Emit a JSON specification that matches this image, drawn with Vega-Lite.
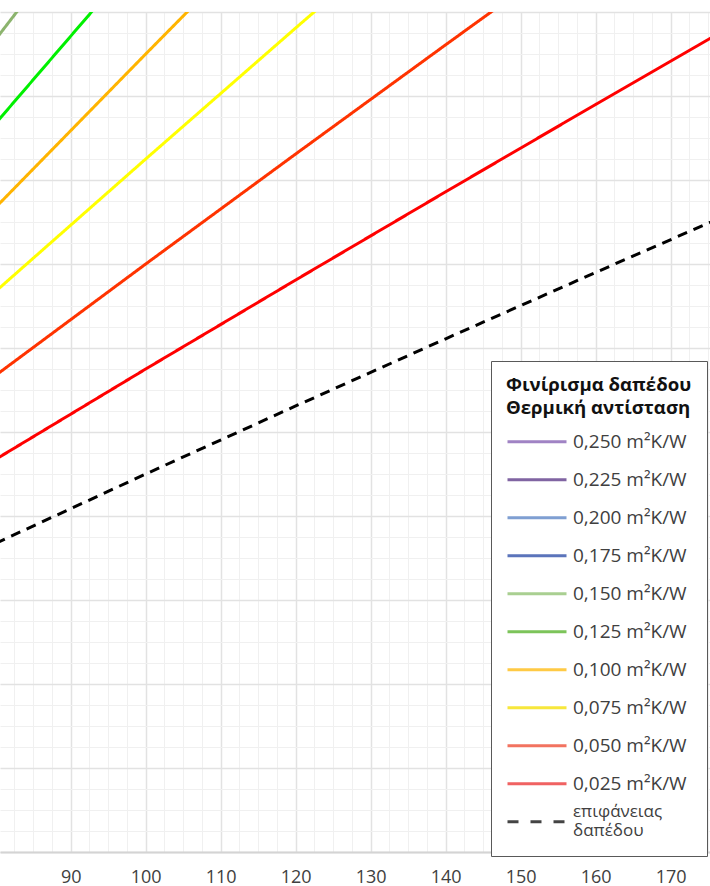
{
  "$schema": "https://vega.github.io/schema/vega-lite/v6.json",
  "width": 710,
  "height": 840,
  "autosize": {"type": "none"},
  "padding": {"left": 0, "top": 12, "right": 0, "bottom": 34},
  "background": "white",
  "config": {
    "view": {"stroke": null},
    "font": "Open Sans",
    "legend": {
      "padding": 15,
      "fillColor": "white",
      "strokeColor": "#595959",
      "titleFont": "Open Sans",
      "titleFontSize": 18.6,
      "titleFontWeight": "bold",
      "titleColor": "#111111",
      "titleLineHeight": 23,
      "titlePadding": 5.4,
      "titleLimit": 400,
      "labelFont": "Open Sans",
      "labelFontSize": 19,
      "labelColor": "#404040",
      "labelOffset": 5,
      "labelLimit": 300,
      "symbolType": "stroke",
      "symbolSize": 3481,
      "symbolStrokeWidth": 3,
      "symbolOpacity": 1,
      "clipHeight": 37.4,
      "rowPadding": 0
    }
  },
  "datasets": {
    "curves": [
      {"q": 80, "t": 27.35, "s": "επιφάνειας δαπέδου"},
      {"q": 100, "t": 29.00, "s": "επιφάνειας δαπέδου"},
      {"q": 120, "t": 30.62, "s": "επιφάνειας δαπέδου"},
      {"q": 140, "t": 32.22, "s": "επιφάνειας δαπέδου"},
      {"q": 160, "t": 33.80, "s": "επιφάνειας δαπέδου"},
      {"q": 180, "t": 35.36, "s": "επιφάνειας δαπέδου"},
      {"q": 80, "t": 29.35, "s": "0,025 m²K/W"},
      {"q": 100, "t": 31.50, "s": "0,025 m²K/W"},
      {"q": 120, "t": 33.62, "s": "0,025 m²K/W"},
      {"q": 140, "t": 35.72, "s": "0,025 m²K/W"},
      {"q": 160, "t": 37.80, "s": "0,025 m²K/W"},
      {"q": 180, "t": 39.86, "s": "0,025 m²K/W"},
      {"q": 80, "t": 31.35, "s": "0,050 m²K/W"},
      {"q": 100, "t": 34.00, "s": "0,050 m²K/W"},
      {"q": 120, "t": 36.62, "s": "0,050 m²K/W"},
      {"q": 140, "t": 39.22, "s": "0,050 m²K/W"},
      {"q": 160, "t": 41.80, "s": "0,050 m²K/W"},
      {"q": 80, "t": 33.35, "s": "0,075 m²K/W"},
      {"q": 100, "t": 36.50, "s": "0,075 m²K/W"},
      {"q": 120, "t": 39.62, "s": "0,075 m²K/W"},
      {"q": 140, "t": 42.72, "s": "0,075 m²K/W"},
      {"q": 80, "t": 35.35, "s": "0,100 m²K/W"},
      {"q": 100, "t": 39.00, "s": "0,100 m²K/W"},
      {"q": 120, "t": 42.62, "s": "0,100 m²K/W"},
      {"q": 80, "t": 37.35, "s": "0,125 m²K/W"},
      {"q": 100, "t": 41.50, "s": "0,125 m²K/W"},
      {"q": 80, "t": 39.35, "s": "0,150 m²K/W"},
      {"q": 100, "t": 44.00, "s": "0,150 m²K/W"}
    ]
  },
  "data": {"name": "curves"},
  "resolve": {
    "scale": {"color": "independent", "strokeDash": "independent"},
    "axis": {"x": "independent", "y": "independent"}
  },
  "layer": [
    {
      "mark": {"type": "line", "opacity": 0, "clip": true},
      "encoding": {
        "x": {
          "field": "q", "type": "quantitative",
          "scale": {"domain": [80.57, 175.24], "nice": false, "zero": false},
          "axis": {
            "orient": "bottom", "title": null, "labels": false, "ticks": false, "domain": false,
            "grid": true, "gridColor": "#f0f0f0", "gridWidth": 1,
            "values": [82.5, 85, 87.5, 92.5, 95, 97.5, 102.5, 105, 107.5, 112.5, 115, 117.5, 122.5, 125, 127.5, 132.5, 135, 137.5, 142.5, 145, 147.5, 152.5, 155, 157.5, 162.5, 165, 167.5, 172.5, 175]
          }
        },
        "y": {
          "field": "t", "type": "quantitative",
          "scale": {"domain": [20, 40], "nice": false, "zero": false},
          "axis": {
            "orient": "left", "title": null, "labels": false, "ticks": false, "domain": false,
            "grid": true, "gridColor": "#f0f0f0", "gridWidth": 1,
            "values": [20.5, 21, 21.5, 22.5, 23, 23.5, 24.5, 25, 25.5, 26.5, 27, 27.5, 28.5, 29, 29.5, 30.5, 31, 31.5, 32.5, 33, 33.5, 34.5, 35, 35.5, 36.5, 37, 37.5, 38.5, 39, 39.5]
          }
        },
        "color": {
          "field": "s", "type": "nominal",
          "title": ["Φινίρισμα δαπέδου", "Θερμική αντίσταση"],
          "scale": {
            "domain": ["0,250 m²K/W", "0,225 m²K/W", "0,200 m²K/W", "0,175 m²K/W", "0,150 m²K/W", "0,125 m²K/W", "0,100 m²K/W", "0,075 m²K/W", "0,050 m²K/W", "0,025 m²K/W", "επιφάνειας δαπέδου"],
            "range": ["#a083c4", "#8064a2", "#7f9fd2", "#5b74bb", "#a9cf91", "#7cc45a", "#ffca45", "#f7e73c", "#f27360", "#f06262", "#444444"]
          },
          "legend": {
            "orient": "none",
            "legendX": 491,
            "legendY": 349,
            "labelExpr": "datum.label == 'επιφάνειας δαπέδου' ? [' επιφάνειας', 'δαπέδου'] : datum.label",
            "encode": {"labels": {"update": {
              "dy": {"signal": "datum.value == 'επιφάνειας δαπέδου' ? -9.5 : 0"},
              "fontSize": {"signal": "datum.value == 'επιφάνειας δαπέδου' ? 17 : 19"},
              "lineHeight": {"value": 19}
            }}}
          }
        },
        "strokeDash": {
          "field": "s", "type": "nominal",
          "title": ["Φινίρισμα δαπέδου", "Θερμική αντίσταση"],
          "scale": {
            "domain": ["0,250 m²K/W", "0,225 m²K/W", "0,200 m²K/W", "0,175 m²K/W", "0,150 m²K/W", "0,125 m²K/W", "0,100 m²K/W", "0,075 m²K/W", "0,050 m²K/W", "0,025 m²K/W", "επιφάνειας δαπέδου"],
            "range": [[1, 0], [1, 0], [1, 0], [1, 0], [1, 0], [1, 0], [1, 0], [1, 0], [1, 0], [1, 0], [11, 12]]
          },
          "legend": {
            "orient": "none",
            "legendX": 491,
            "legendY": 349,
            "labelExpr": "datum.label == 'επιφάνειας δαπέδου' ? [' επιφάνειας', 'δαπέδου'] : datum.label",
            "encode": {"labels": {"update": {
              "dy": {"signal": "datum.value == 'επιφάνειας δαπέδου' ? -9.5 : 0"},
              "fontSize": {"signal": "datum.value == 'επιφάνειας δαπέδου' ? 17 : 19"},
              "lineHeight": {"value": 19}
            }}}
          }
        }
      }
    },
    {
      "mark": {"type": "line", "strokeWidth": 3, "clip": true},
      "encoding": {
        "x": {
          "field": "q", "type": "quantitative",
          "axis": {
            "orient": "bottom", "title": null, "ticks": false,
            "domain": true, "domainColor": "#d4d4d4", "domainWidth": 2,
            "grid": true, "gridColor": "#e2e2e2", "gridWidth": 1.5,
            "labelFont": "Open Sans", "labelFontSize": 18, "labelColor": "#404040",
            "labelPadding": 16, "labelFlush": false,
            "values": [80, 90, 100, 110, 120, 130, 140, 150, 160, 170]
          }
        },
        "y": {
          "field": "t", "type": "quantitative",
          "axis": {
            "orient": "left", "title": null, "labels": false, "ticks": false, "domain": false,
            "grid": true, "gridColor": "#e2e2e2", "gridWidth": 1.5,
            "values": [20, 22, 24, 26, 28, 30, 32, 34, 36, 38, 40]
          }
        },
        "color": {
          "field": "s", "type": "nominal",
          "scale": {
            "domain": ["0,150 m²K/W", "0,125 m²K/W", "0,100 m²K/W", "0,075 m²K/W", "0,050 m²K/W", "0,025 m²K/W", "επιφάνειας δαπέδου"],
            "range": ["#8cb46e", "#00f000", "#ffb400", "#ffff00", "#ff3300", "#ff0000", "#000000"]
          },
          "legend": null
        },
        "strokeDash": {
          "field": "s", "type": "nominal",
          "scale": {
            "domain": ["0,150 m²K/W", "0,125 m²K/W", "0,100 m²K/W", "0,075 m²K/W", "0,050 m²K/W", "0,025 m²K/W", "επιφάνειας δαπέδου"],
            "range": [[1, 0], [1, 0], [1, 0], [1, 0], [1, 0], [1, 0], [10, 7]]
          },
          "legend": null
        }
      }
    }
  ]
}
